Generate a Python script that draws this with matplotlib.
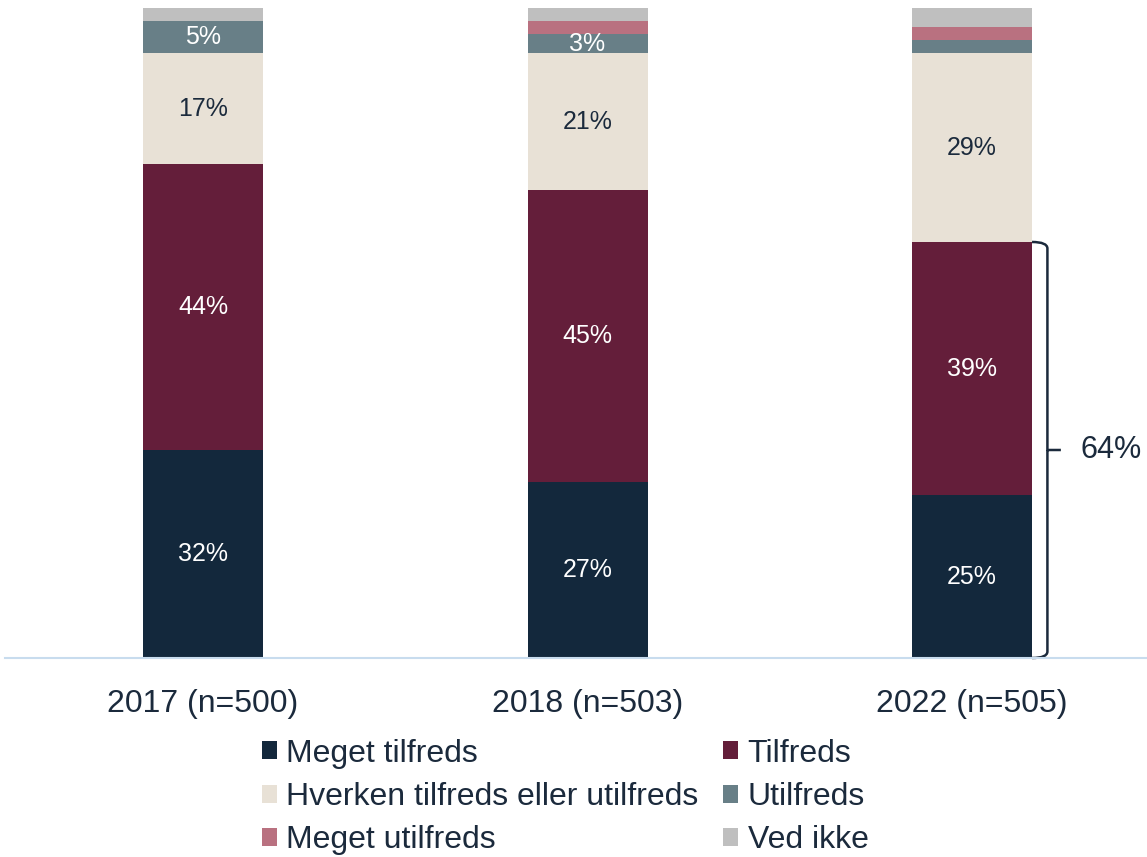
import matplotlib.pyplot as plt
import numpy as np
from matplotlib.patches import Patch, PathPatch
from matplotlib.path import Path

plt.rcParams['font.family'] = ['Liberation Sans', 'DejaVu Sans']

years = ["2017 (n=500)", "2018 (n=503)", "2022 (n=505)"]
categories = ["Meget tilfreds", "Tilfreds", "Hverken tilfreds eller utilfreds",
              "Utilfreds", "Meget utilfreds", "Ved ikke"]

meget_tilfreds = [32, 27, 25]
tilfreds = [44, 45, 39]
hverken = [17, 21, 29]
utilfreds = [5, 3, 2]
meget_utilfreds = [0, 2, 2]
ved_ikke = [2, 2, 3]

# labels shown inside segments (None = no label)
labels = [
    ["32%", "27%", "25%"],
    ["44%", "45%", "39%"],
    ["17%", "21%", "29%"],
    ["5%", "3%", None],
    [None, None, None],
    [None, None, None],
]
bracket_text = "64%"

colors = ["#13283c", "#641e3a", "#e8e1d6", "#687f87", "#b97180", "#bfbfbf"]
text_colors = ["white", "white", "#1b2a3c", "white", "white", "white"]
dark = "#1b2a3c"

series = [meget_tilfreds, tilfreds, hverken, utilfreds, meget_utilfreds, ved_ikke]

fig = plt.figure(figsize=(11.47, 8.57), dpi=100)
ax = fig.add_axes([0.0044, 0.2322, 0.9956, 0.7585])

x = np.arange(len(years))
width = 0.312
bottom = np.zeros(len(years))
for vals, col, lab, tc in zip(series, colors, labels, text_colors):
    vals = np.array(vals, dtype=float)
    ax.bar(x, vals, width, bottom=bottom, color=col, linewidth=0)
    for i in range(len(years)):
        if lab[i] is not None:
            ax.text(x[i], bottom[i] + vals[i] / 2, lab[i], ha='center', va='center',
                    color=tc, fontsize=18)
    bottom += vals

ax.set_xlim(-0.515, 2.455)
ax.set_ylim(0, 100)
for s in ["top", "right", "left"]:
    ax.spines[s].set_visible(False)
ax.spines["bottom"].set_color("#c8dcee")
ax.spines["bottom"].set_linewidth(1.5)
ax.set_yticks([])
ax.set_xticks(x)
ax.set_xticklabels(years, fontsize=23, color=dark)
ax.tick_params(axis='x', length=0, pad=22)

# bracket for 2022 (Meget tilfreds + Tilfreds)
top = meget_tilfreds[2] + tilfreds[2]
x0 = x[2] + width / 2
xb = x0 + 0.04
xt = xb + 0.035
r = 1.0
verts = [(x0, top), (xb, top), (xb, top - r),
         (xb, top / 2), (xt, top / 2),
         (xb, top / 2), (xb, r),
         (xb, 0), (x0, 0)]
codes = [Path.MOVETO, Path.CURVE3, Path.CURVE3,
         Path.LINETO, Path.LINETO,
         Path.MOVETO, Path.LINETO,
         Path.CURVE3, Path.CURVE3]
ax.add_patch(PathPatch(Path(verts, codes), fill=False, edgecolor=dark, linewidth=1.8,
                       clip_on=False, joinstyle='round', capstyle='butt'))
ax.text(xt + 0.05, top / 2, bracket_text, ha='left', va='center', fontsize=22, color=dark)

# legend filled row by row (matplotlib fills columns first)
order = [0, 2, 4, 1, 3, 5]
handles = [Patch(facecolor=colors[i], edgecolor='none') for i in order]
leg = fig.legend(handles, [categories[i] for i in order], loc='center',
                 bbox_to_anchor=(565 / 1147, 1 - 797 / 857),
                 ncol=2, frameon=False, fontsize=23, handlelength=0.48, handleheight=0.48,
                 handletextpad=0.3, columnspacing=0.75, labelspacing=0.42, borderpad=0)
for t in leg.get_texts():
    t.set_color(dark)

fig.savefig("out.png", dpi=100)
